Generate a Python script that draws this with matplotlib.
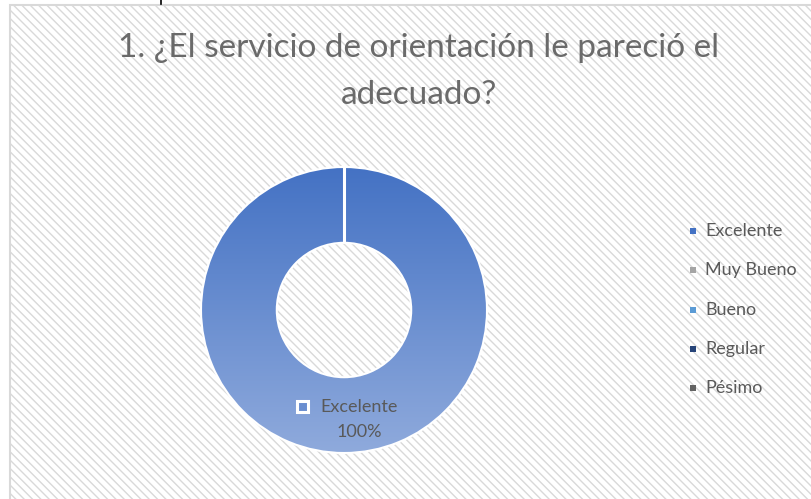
import matplotlib
matplotlib.use("Agg")
import matplotlib.pyplot as plt
import numpy as np
from matplotlib.patches import Rectangle
from matplotlib.colors import LinearSegmentedColormap

categories = ["Excelente", "Muy Bueno", "Bueno", "Regular", "Pésimo"]
values = [100, 0, 0, 0, 0]
legend_colors = ["#4472C4", "#A5A5A5", "#5B9BD5", "#264478", "#636363"]
title_lines = ["1. ¿El servicio de orientación le pareció el", "adecuado?"]

W, H = 812, 499
plt.rcParams["hatch.color"] = "#E2E2E2"
plt.rcParams["hatch.linewidth"] = 1.0
fig = plt.figure(figsize=(W / 100, H / 100), dpi=100)
fig.patch.set_facecolor("white")

FONT = ["Lato", "DejaVu Sans"]
TXT = "#595959"

# background frame with hatch
bg = fig.add_axes([0, 0, 1, 1])
bg.set_xlim(0, W)
bg.set_ylim(H, 0)
bg.axis("off")
bg.add_patch(Rectangle((10, 4.5), W, H, facecolor="white", edgecolor="#D9D9D9",
                       hatch="\\\\\\\\", linewidth=1.5))
bg.plot([161, 161], [0, 4], color="black", lw=1.2)

# donut
cx, cy, R = 344, 310, 143
pad = 150
ax = fig.add_axes([(cx - pad) / W, (H - cy - pad) / H, 2 * pad / W, 2 * pad / H])
lim = pad / R
ax.axis("off")
start = 90
wedges, _ = ax.pie(values, startangle=start, counterclock=False, radius=1,
                   colors=legend_colors,
                   wedgeprops=dict(width=0.53, edgecolor="white", linewidth=1.5))
ax.set_xlim(-lim, lim)
ax.set_ylim(-lim, lim)
ax.set_aspect("auto")
cmap = LinearSegmentedColormap.from_list("g", ["#8FAADC", "#4472C4"])
grad = np.linspace(0, 1, 256).reshape(-1, 1)
for w, v in zip(wedges, values):
    if v > 0:
        im = ax.imshow(grad, extent=(-1, 1, -1, 1), origin="lower", cmap=cmap,
                       aspect="auto", zorder=w.get_zorder() + 0.1)
        im.set_clip_path(w)
        w.set_facecolor("none")
        w.set_zorder(w.get_zorder() + 0.2)
ax.set_xlim(-lim, lim)
ax.set_ylim(-lim, lim)
# slice boundary at start angle
a = np.deg2rad(start)
ax.plot([0.47 * np.cos(a), 1.0 * np.cos(a)], [0.47 * np.sin(a), 1.0 * np.sin(a)],
        color="white", lw=2.2, zorder=10, solid_capstyle="butt")

# overlay for texts
ov = fig.add_axes([0, 0, 1, 1])
ov.set_xlim(0, W)
ov.set_ylim(H, 0)
ov.axis("off")
ov.patch.set_alpha(0)

# title
ov.text(419, 48, title_lines[0], ha="center", va="center", fontsize=24,
        family=FONT, color="#6A6A6A")
ov.text(419, 95, title_lines[1], ha="center", va="center", fontsize=24,
        family=FONT, color="#6A6A6A")

# data label
total = sum(values)
for cat, v in zip(categories, values):
    if v > 0:
        ov.add_patch(Rectangle((297, 401), 11, 11, facecolor="#6A8ED0",
                               edgecolor="white", linewidth=2.2))
        ov.text(320, 407, cat, ha="left", va="center", fontsize=13, family=FONT, color=TXT)
        ov.text(359, 432, f"{v / total * 100:.0f}%", ha="center", va="center",
                fontsize=13, family=FONT, color=TXT)

# legend
ys = [231, 270, 310, 349, 388]
for cat, col, y in zip(categories, legend_colors, ys):
    ov.add_patch(Rectangle((690, y - 3), 6, 6, facecolor=col, edgecolor="none"))
    ov.text(705, y, cat, ha="left", va="center", fontsize=13, family=FONT, color=TXT)

fig.savefig("out.png", dpi=100)
